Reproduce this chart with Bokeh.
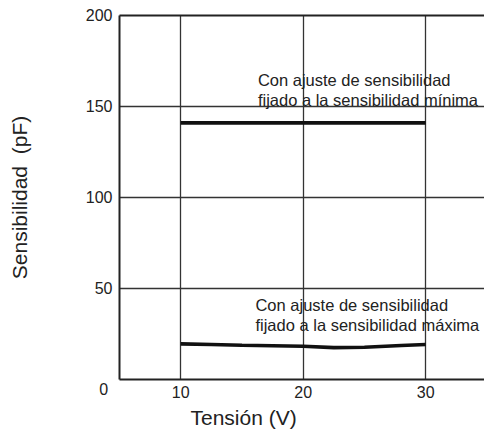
from bokeh.plotting import figure
from bokeh.models import Range1d, FixedTicker, LinearAxis, Title
from bokeh.core.properties import value
from bokeh.embed import file_html
from bokeh.resources import INLINE

# ---- data ----
volt_min = [10, 30]
cap_min = [141, 141]
volt_max = [10, 12.5, 15, 20, 22.5, 25, 28, 30]
cap_max = [19.6, 19.2, 18.8, 18.3, 17.5, 17.7, 18.7, 19.2]
x_ticks = [10, 20, 30]
y_ticks = [0, 50, 100, 150, 200]
grid_y = [50, 100, 150, 200]
origin_label = "0"
x_title = "Tensión (V)"
y_title = "Sensibilidad  (pF)"
note_min = ["Con ajuste de sensibilidad", "fijado a la sensibilidad mínima"]
note_max = ["Con ajuste de sensibilidad", "fijado a la sensibilidad máxima"]

FONT = "Liberation Sans"
INK = "#222222"

p = figure(width=484, height=432, x_range=Range1d(5, 34.8), y_range=Range1d(0, 200),
           output_backend="svg", toolbar_location=None,
           min_border_left=119, min_border_right=0, min_border_top=15, min_border_bottom=20)
p.outline_line_color = None
p.background_fill_color = "white"
p.border_fill_color = "white"

for ax, ticks in ((p.xaxis, x_ticks), (p.yaxis, y_ticks)):
    ax.ticker = FixedTicker(ticks=ticks)
    ax.axis_line_width = 2
    ax.axis_line_color = INK
    ax.major_tick_in = 0
    ax.major_tick_out = 0
    ax.minor_tick_in = 0
    ax.minor_tick_out = 0
    ax.major_label_text_font = FONT
    ax.major_label_text_font_size = "16px"
    ax.major_label_text_color = INK
p.xaxis.major_label_standoff = 6
p.yaxis.major_label_standoff = 7
p.yaxis.major_label_overrides = {0: "\n" + origin_label + "\u00a0"}
p.yaxis.axis_label = y_title.replace("  ", " \u00a0")
p.yaxis.axis_label_text_font = FONT
p.yaxis.axis_label_text_font_size = "21px"
p.yaxis.axis_label_text_font_style = "normal"
p.yaxis.axis_label_text_color = INK
p.yaxis.axis_label_standoff = 52

top = LinearAxis(ticker=FixedTicker(ticks=[]), axis_line_width=2, axis_line_color=INK,
                 major_tick_in=0, major_tick_out=0, minor_tick_in=0, minor_tick_out=0,
                 major_label_text_font_size="0px", major_label_standoff=0)
p.add_layout(top, "above")

p.add_layout(Title(text=x_title, align="left", offset=71, standoff=7, text_font=FONT,
                   text_font_size="21px", text_font_style="normal", text_color=INK), "below")

p.xgrid.ticker = FixedTicker(ticks=x_ticks)
p.ygrid.ticker = FixedTicker(ticks=grid_y)
p.grid.grid_line_color = "#333333"
p.grid.grid_line_width = 1.3

p.line(volt_min, cap_min, line_width=3.6, line_color="#111111")
p.line(volt_max, cap_max, line_width=3.6, line_color="#111111")

p.text(x=[16.3, 16.3], y=[164.8, 153.8], text=note_min, text_font=value(FONT),
       text_font_size="16.5px", text_baseline="alphabetic", text_align="left", text_color=INK)
p.text(x=[16.1, 16.1], y=[40.7, 29.7], text=note_max, text_font=value(FONT),
       text_font_size="16.5px", text_baseline="alphabetic", text_align="left", text_color=INK)

open("out.html", "w").write(file_html(p, INLINE))
